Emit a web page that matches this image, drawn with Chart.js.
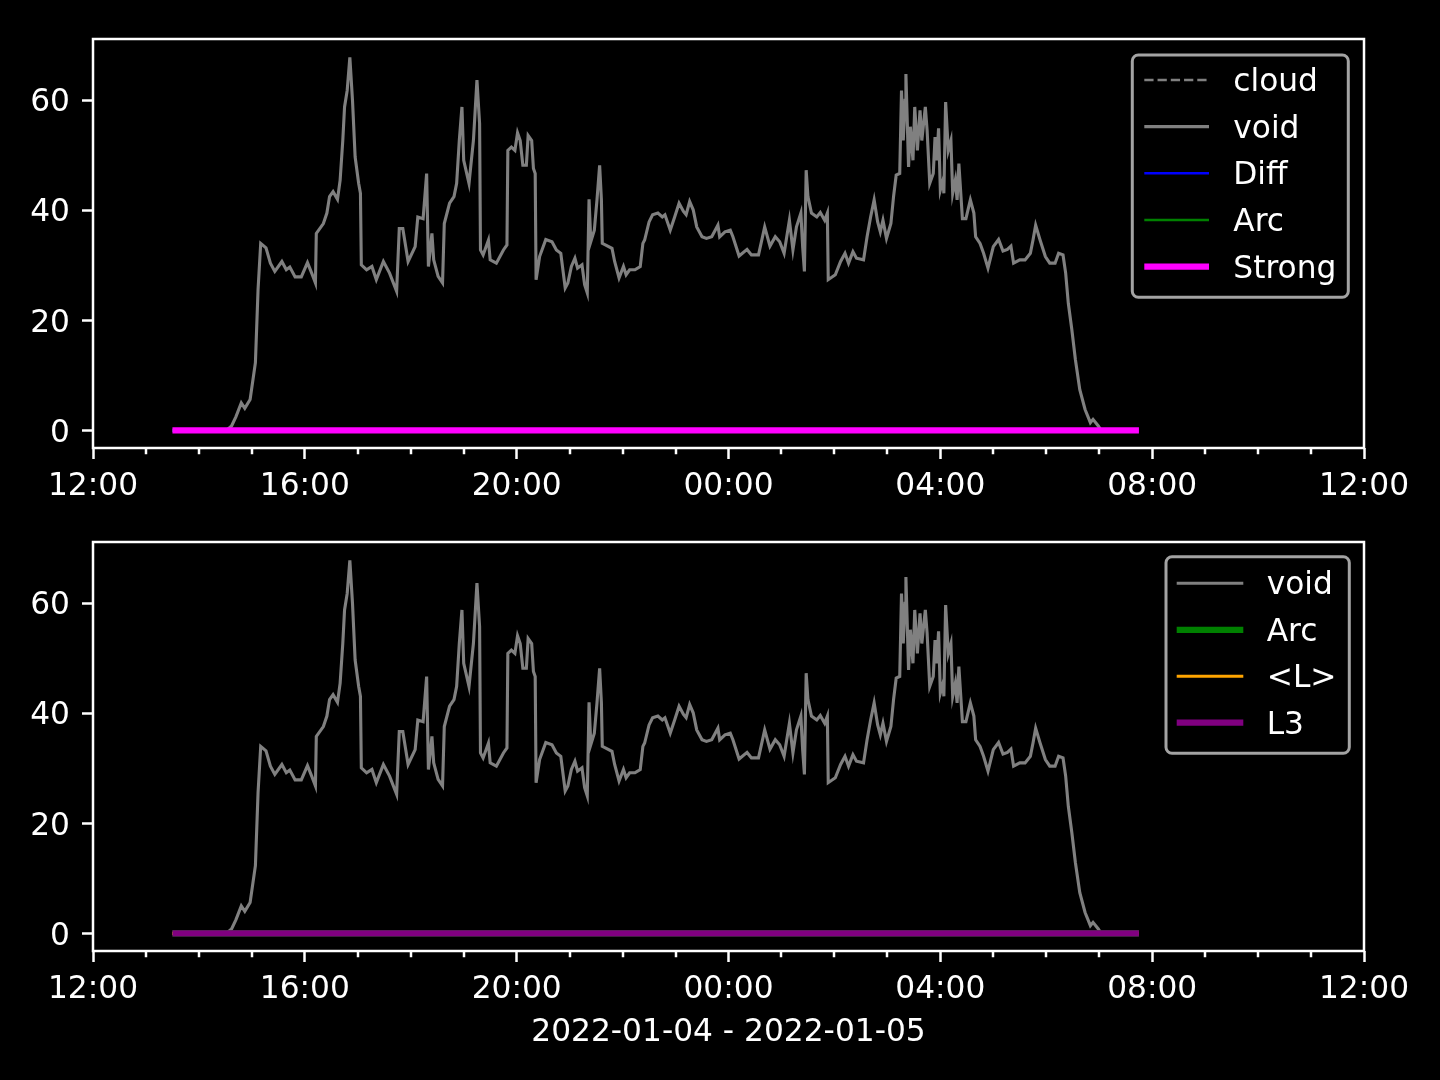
<!DOCTYPE html>
<html>
<head>
<meta charset="utf-8">
<script src="https://cdn.jsdelivr.net/npm/chart.js@4.4.1/dist/chart.umd.min.js"></script>
<style>
  html, body { margin: 0; padding: 0; background: #000; }
  #wrap { position: relative; width: 1440px; height: 1080px; }
  canvas { position: absolute; left: 0; }
  #topCanvas { top: 0; }
  #bottomCanvas { top: 500px; }
</style>
</head>
<body>
<div id="wrap">
  <canvas id="topCanvas" width="1440" height="500"></canvas>
  <canvas id="bottomCanvas" width="1440" height="580"></canvas>
</div>
<script>
// sample times (local clock, 2022-01-04 12:00 -> 2022-01-05 12:00)
const voidTimes = [
  '13:30', '14:31', '14:37', '14:42', '14:48', '14:52', '14:58', '15:04', '15:07', '15:10',
  '15:16', '15:21', '15:26', '15:34', '15:39', '15:43', '15:49', '15:56', '16:03', '16:08',
  '16:12', '16:13', '16:21', '16:25', '16:28', '16:32', '16:37', '16:40', '16:43', '16:45',
  '16:48', '16:51', '16:54', '16:57', '17:01', '17:03', '17:04', '17:10', '17:16', '17:21',
  '17:29', '17:36', '17:44', '17:47', '17:51', '17:57', '18:05', '18:08', '18:14', '18:18',
  '18:20', '18:24', '18:26', '18:31', '18:36', '18:38', '18:44', '18:49', '18:52', '18:55',
  '18:58', '19:00', '19:06', '19:11', '19:15', '19:18', '19:19', '19:22', '19:28', '19:30',
  '19:37', '19:45', '19:49', '19:50', '19:54', '19:58', '20:01', '20:04', '20:07', '20:11',
  '20:13', '20:17', '20:19', '20:21', '20:22', '20:26', '20:33', '20:40', '20:45', '20:50',
  '20:55', '20:58', '21:02', '21:06', '21:09', '21:14', '21:17', '21:20', '21:22', '21:24',
  '21:28', '21:31', '21:34', '21:36', '21:37', '21:41', '21:48', '21:51', '21:56', '22:01',
  '22:04', '22:08', '22:14', '22:20', '22:23', '22:25', '22:30', '22:34', '22:40', '22:45',
  '22:48', '22:54', '22:59', '23:04', '23:09', '23:12', '23:16', '23:20', '23:24', '23:30',
  '23:35', '23:41', '23:48', '23:50', '23:56', '00:02', '00:05', '00:12', '00:21', '00:26',
  '00:34', '00:41', '00:47', '00:53', '00:58', '01:03', '01:09', '01:13', '01:17', '01:22',
  '01:24', '01:26', '01:28', '01:30', '01:34', '01:40', '01:44', '01:49', '01:52', '01:53',
  '02:01', '02:07', '02:12', '02:16', '02:21', '02:25', '02:33', '02:37', '02:41', '02:45',
  '02:49', '02:52', '02:55', '02:59', '03:04', '03:07', '03:10', '03:14', '03:16', '03:18',
  '03:20', '03:21', '03:24', '03:26', '03:29', '03:31', '03:34', '03:37', '03:39', '03:43',
  '03:45', '03:48', '03:52', '03:54', '03:56', '03:58', '04:00', '04:03', '04:04', '04:06',
  '04:09', '04:12', '04:14', '04:17', '04:19', '04:21', '04:25', '04:29', '04:34', '04:38',
  '04:40', '04:45', '04:49', '04:54', '05:00', '05:06', '05:11', '05:16', '05:20', '05:23',
  '05:30', '05:36', '05:42', '05:45', '05:48', '05:53', '05:59', '06:04', '06:10', '06:14',
  '06:19', '06:22', '06:25', '06:29', '06:33', '06:38', '06:44', '06:50', '06:53', '06:59',
  '07:02', '07:45'
]
const voidValues = [
  0, 0, 0.8, 2.5, 5.0, 4.0, 5.6, 12.3, 25.6, 34.0,
  33.2, 30.4, 28.9, 30.7, 29.2, 29.7, 27.9, 27.9, 30.5, 28.5,
  26.8, 35.8, 37.6, 39.5, 42.5, 43.4, 42.0, 45.5, 52.7, 58.8,
  61.8, 67.8, 60.0, 49.7, 44.9, 43.1, 30.1, 29.2, 29.8, 27.4,
  30.7, 28.6, 25.3, 36.7, 36.7, 30.7, 33.4, 38.8, 38.5, 46.7,
  29.8, 35.8, 31.0, 28.0, 26.8, 37.6, 41.3, 42.5, 44.9, 52.7,
  58.8, 49.1, 44.9, 52.7, 63.7, 55.8, 32.8, 31.9, 34.6, 31.0,
  30.4, 32.8, 33.7, 50.9, 51.5, 50.9, 54.1, 52.7, 48.2, 48.2,
  53.6, 52.7, 47.6, 46.7, 27.4, 31.6, 34.7, 34.3, 32.8, 32.2,
  25.9, 26.8, 29.8, 31.3, 29.5, 30.1, 26.5, 25.0, 42.0, 34.3,
  36.4, 41.9, 48.2, 41.9, 34.0, 33.7, 33.1, 30.7, 27.7, 29.8,
  28.3, 29.2, 29.2, 29.8, 34.0, 34.6, 37.9, 39.2, 39.5, 38.8,
  39.2, 36.4, 38.8, 41.3, 39.8, 39.2, 41.6, 40.1, 37.0, 35.2,
  34.9, 35.2, 37.3, 35.2, 36.1, 36.4, 35.2, 31.7, 32.9, 31.9,
  31.9, 37.0, 33.5, 35.2, 34.3, 32.2, 38.2, 32.8, 37.0, 39.5,
  33.4, 28.9, 47.3, 42.5, 39.5, 38.8, 39.6, 38.2, 39.5, 27.4,
  28.3, 30.7, 32.2, 30.4, 32.5, 31.3, 31.0, 35.2, 38.8, 41.9,
  37.9, 36.1, 38.2, 34.9, 37.6, 42.5, 46.4, 46.7, 61.8, 52.7,
  60.0, 64.8, 47.9, 55.2, 49.1, 58.8, 50.9, 58.2, 52.7, 58.8,
  54.6, 44.9, 46.7, 53.3, 49.1, 54.9, 43.7, 45.5, 43.1, 59.7,
  50.9, 52.7, 43.1, 45.5, 41.9, 48.5, 38.5, 38.5, 41.9, 39.5,
  35.2, 34.0, 32.2, 29.5, 33.4, 34.7, 32.6, 32.9, 33.5, 30.4,
  31.0, 31.0, 32.2, 34.6, 37.3, 34.6, 31.6, 30.4, 30.4, 32.2,
  31.9, 28.6, 23.1, 18.3, 12.9, 7.4, 3.8, 1.4, 2.0, 0.8,
  0, 0
]

// the other series stay flat at zero over the whole record
const baseTimes = ['13:30', '07:45']
const cloudValues = [0, 0]
const diffValues = [0, 0]
const arcValues = [0, 0]
const strongValues = [0, 0]
const meanLValues = [0, 0]
const l3Values = [0, 0]

const tickLabels = ['12:00', '16:00', '20:00', '00:00', '04:00', '08:00', '12:00']
const dateLabel = '2022-01-04 - 2022-01-05'

const FONT_SIZE = 31.25

Chart.defaults.font.family = "'DejaVu Sans', sans-serif"
Chart.defaults.color = '#fff'

// hours since 12:00 on the first day
function toHours(t) {
  const [h, m] = t.split(':').map(Number)
  let v = h + m / 60 - 12
  if (v < 0) v += 24
  return v
}

function points(times, values) {
  return times.map((t, i) => ({ x: toHours(t), y: values[i] }))
}

function line(label, times, values, color, width, order, dash) {
  return {
    label: label,
    data: points(times, values),
    borderColor: color,
    backgroundColor: color,
    borderWidth: width,
    borderDash: dash || [],
    pointRadius: 0,
    tension: 0,
    fill: false,
    order: order
  }
}

const framePlugin = {
  id: 'frame',
  afterDraw(chart) {
    const { ctx, chartArea: a, scales: { x } } = chart
    ctx.save()
    ctx.strokeStyle = '#fff'
    ctx.lineWidth = 2.5
    ctx.strokeRect(a.left, a.top, a.right - a.left, a.bottom - a.top)
    // minor hour ticks
    for (let h = 0; h <= 24; h++) {
      if (h % 4 === 0) continue
      const px = Math.round(x.getPixelForValue(h))
      ctx.beginPath()
      ctx.moveTo(px, a.bottom)
      ctx.lineTo(px, a.bottom + 6.25)
      ctx.stroke()
    }
    ctx.restore()
  }
}

function boxLegend(box, lineX1, lineX2, textX, rowY, rowStep) {
  return {
    id: 'boxLegend',
    afterDraw(chart) {
      const ctx = chart.ctx
      ctx.save()
      ctx.beginPath()
      ctx.roundRect(box.x, box.y, box.w, box.h, 6)
      ctx.fillStyle = 'rgba(0,0,0,0.8)'
      ctx.fill()
      ctx.lineWidth = 3
      ctx.strokeStyle = 'rgba(204,204,204,0.8)'
      ctx.stroke()

      chart.data.datasets.forEach((ds, i) => {
        const y = rowY + i * rowStep
        ctx.beginPath()
        ctx.setLineDash(ds.borderDash)
        ctx.strokeStyle = ds.borderColor
        ctx.lineWidth = ds.borderWidth
        ctx.moveTo(lineX1, y)
        ctx.lineTo(lineX2, y)
        ctx.stroke()
        ctx.setLineDash([])
        ctx.fillStyle = '#fff'
        ctx.font = FONT_SIZE + "px 'DejaVu Sans', sans-serif"
        ctx.textBaseline = 'alphabetic'
        ctx.textAlign = 'left'
        ctx.fillText(ds.label, textX, y + 11)
      })
      ctx.restore()
    }
  }
}

function makeOptions(pad, xHeight, title) {
  return {
    responsive: false,
    animation: false,
    events: [],
    layout: { padding: pad },
    plugins: {
      legend: { display: false },
      tooltip: { enabled: false }
    },
    scales: {
      x: {
        type: 'linear',
        min: 0,
        max: 24,
        afterFit: (s) => { s.height = xHeight },
        border: { display: false },
        grid: { drawOnChartArea: false, drawTicks: true, tickLength: 11, tickColor: '#fff', tickWidth: 2.5 },
        ticks: {
          stepSize: 4,
          padding: 9,
          color: '#fff',
          font: { size: FONT_SIZE },
          maxRotation: 0,
          autoSkip: false,
          includeBounds: false,
          callback: (v, i) => tickLabels[i]
        },
        title: title
          ? { display: true, text: title, color: '#fff', font: { size: FONT_SIZE }, padding: { top: 0, bottom: 28 } }
          : { display: false }
      },
      y: {
        min: -3.2,
        max: 71.15,
        afterFit: (s) => { s.width = 93 },
        border: { display: false },
        grid: { drawOnChartArea: false, drawTicks: true, tickLength: 11, tickColor: '#fff', tickWidth: 2.5 },
        ticks: {
          stepSize: 20,
          padding: 12,
          labelOffset: 3,
          color: '#fff',
          font: { size: FONT_SIZE },
          includeBounds: false
        }
      }
    }
  }
}

new Chart(document.getElementById('topCanvas').getContext('2d'), {
  type: 'line',
  data: {
    datasets: [
      line('cloud', baseTimes, cloudValues, '#808080', 2.5, 4, [9.25, 4]),
      line('void', voidTimes, voidValues, '#808080', 3.1, 3),
      line('Diff', baseTimes, diffValues, '#0000ff', 2.5, 2),
      line('Arc', baseTimes, arcValues, '#008000', 2.5, 1),
      line('Strong', baseTimes, strongValues, '#ff00ff', 6.25, 0)
    ]
  },
  options: makeOptions({ left: 0, right: 76, top: 39, bottom: 0 }, 52, null),
  plugins: [framePlugin, boxLegend({ x: 1132.3, y: 55, w: 216, h: 242.3 }, 1144.3, 1209, 1233.3, 80, 46.67)]
})

new Chart(document.getElementById('bottomCanvas').getContext('2d'), {
  type: 'line',
  data: {
    datasets: [
      line('void', voidTimes, voidValues, '#808080', 3.1, 3),
      line('Arc', baseTimes, arcValues, '#008000', 6.25, 2),
      line('<L>', baseTimes, meanLValues, '#ffa500', 3.1, 1),
      line('L3', baseTimes, l3Values, '#800080', 6.25, 0)
    ]
  },
  options: makeOptions({ left: 0, right: 76, top: 42, bottom: 0 }, 129, dateLabel),
  plugins: [framePlugin, boxLegend({ x: 1166, y: 56.7, w: 183.3, h: 196.6 }, 1176.7, 1243.3, 1266.7, 83.3, 46.47)]
})
</script>
</body>
</html>
